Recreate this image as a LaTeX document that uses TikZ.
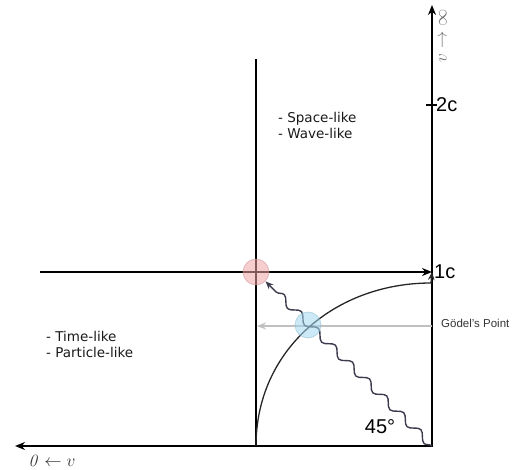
\documentclass[tikz,border=0pt]{standalone}
\usepackage[no-math]{fontspec}
\setmainfont{Liberation Sans}
\newfontfamily\likefont{DejaVu Sans}
\usepackage{amsmath,amssymb}
\usepackage{xcolor}
\usetikzlibrary{arrows.meta, decorations.pathmorphing, backgrounds}

\definecolor{wavegray}{RGB}{60,60,78}
\definecolor{godelgray}{RGB}{192,192,192}
\definecolor{lightred}{RGB}{238,165,165}
\definecolor{lightblue}{RGB}{160,215,238}

\begin{document}
\begin{tikzpicture}[
    x=1pt, y=-1pt,
    >={Stealth[length=10pt, width=8pt]},
    % --- Line styles ---
    axis/.style={line width=2.4pt, draw=black},
    frame/.style={line width=2.4pt, draw=black},
    orbit/.style={line width=1.3pt, draw=black!85,
        -{Stealth[length=8pt, width=6.5pt]}},
    photon/.style={line width=1.4pt, draw=wavegray,
        -{Stealth[length=8pt, width=6.5pt]},
        decorate, decoration={snake, amplitude=3.8pt,
        segment length=24pt, post length=10pt}},
    godelline/.style={line width=2pt, draw=godelgray,
        -{Stealth[length=9pt, width=7pt]}},
    % --- Point markers ---
    spot/.style={circle, minimum size=26pt, inner sep=0pt,
        fill=#1, fill opacity=0.55, draw=#1!85!black, draw opacity=0.5,
        line width=0.8pt},
    % --- Text styles ---
    likelbl/.style={font=\likefont\fontsize{13.5}{16}\selectfont,
        align=left, text=black!90, inner sep=0pt},
    axlbl/.style={font=\fontsize{20}{23}\selectfont, inner sep=1pt},
    mathlbl/.style={font=\fontsize{16}{19}\selectfont, inner sep=0pt},
    smalllbl/.style={font=\fontsize{11.5}{14}\selectfont, text=black!80,
        inner sep=0pt},
]
\useasboundingbox (0,0) rectangle (520,470);

% =============================================
%  Key points
% =============================================
\coordinate (corner) at (432,446);
\coordinate (ytop)   at (432,5);
\coordinate (xleft)  at (15,446);
\coordinate (c1)     at (432,272);
\coordinate (c2)     at (432,105);
\coordinate (hstart) at (40,272);
\coordinate (vtop)   at (256,59);
\coordinate (vbot)   at (256,446);
\coordinate (arcend) at (431,283);
\coordinate (gright) at (432,326);
\coordinate (gleft)  at (257,326);

% =============================================
%  Marked points
% =============================================
\node[spot=lightred]  (lightpt) at (256,272) {};
\node[spot=lightblue] (godelpt) at (308,325) {};

% =============================================
%  Lines (behind the points)
% =============================================
\begin{scope}[on background layer]
    % axes
    \draw[axis, <->] (ytop) -- (corner) -- (xleft);
    \draw[axis] (c2) ++(-6,0) -- ++(11,0);

    % light-speed frame
    \draw[frame, ->] (hstart) -- (c1);
    \draw[frame] (vtop) -- (vbot);

    % Goedel line
    \draw[godelline] (gright) -- (gleft);

    % quarter arc
    \draw[orbit] (vbot) .. controls (256,350) and (335,283) .. (arcend) -- (c1);

    % 45 degree wave
    \draw[photon] (corner) -- (lightpt);
\end{scope}

% =============================================
%  Labels
% =============================================
\node[axlbl, anchor=west] (lbl1c) at (433,272) {1c};
\node[axlbl, anchor=west] (lbl2c) at (435,105) {2c};
\node[axlbl] (angle) at (380,427) {45°};
\node[smalllbl, anchor=west] (godellbl) at (441,323) {Gödel's Point};

\node[likelbl, anchor=west] (spacelbl) at (278,125.5) {- Space-like\\- Wave-like};
\node[likelbl, anchor=west] (timelbl)  at (46,344) {- Time-like\\- Particle-like};

\node[mathlbl, rotate=90, text=black!55] (vinf) at (443,36) {$v\rightarrow\infty$};
\node[mathlbl, text=black!80] (vzero) at (52,461) {$\mathit{0}\leftarrow v$};

\end{tikzpicture}
\end{document}
